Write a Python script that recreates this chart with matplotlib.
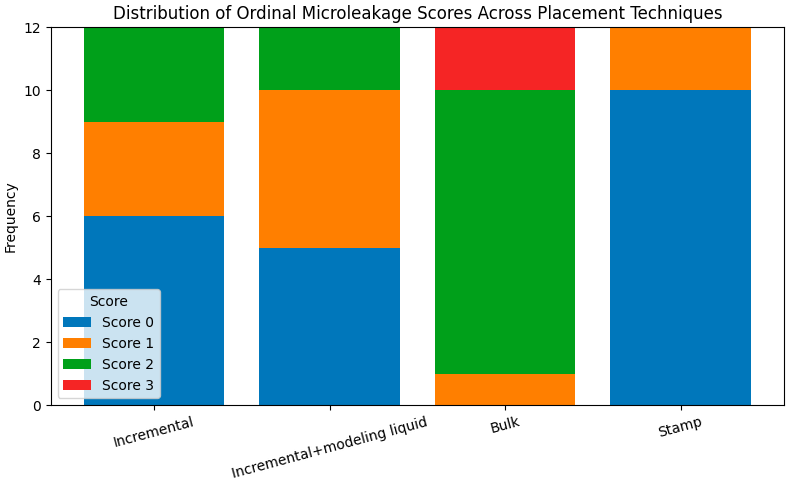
import matplotlib
matplotlib.use("Agg")
import matplotlib.pyplot as plt
import numpy as np

techniques = ["Incremental", "Incremental+modeling liquid", "Bulk", "Stamp"]
score_labels = ["Score 0", "Score 1", "Score 2", "Score 3"]
score0 = [6, 5, 0, 10]
score1 = [3, 5, 1, 2]
score2 = [3, 2, 9, 0]
score3 = [0, 0, 2, 0]
colors = ["#0077bb", "#ff7f00", "#00a01a", "#f52525"]

fig, ax = plt.subplots(figsize=(7.92, 4.84), dpi=100)
x = np.arange(len(techniques))
bottom = np.zeros(len(techniques))
for vals, lab, col in zip([score0, score1, score2, score3], score_labels, colors):
    ax.bar(x, vals, 0.8, bottom=bottom, label=lab, color=col)
    bottom += np.array(vals)

ax.set_xticks(x)
ax.set_xticklabels(techniques, rotation=15)
ax.set_ylabel("Frequency")
ax.set_ylim(0, 12)
ax.set_title("Distribution of Ordinal Microleakage Scores Across Placement Techniques")
ax.legend(title="Score", loc="lower left")

plt.subplots_adjust(left=0.064, right=0.99, top=0.944, bottom=0.163)
plt.savefig("out.png")
